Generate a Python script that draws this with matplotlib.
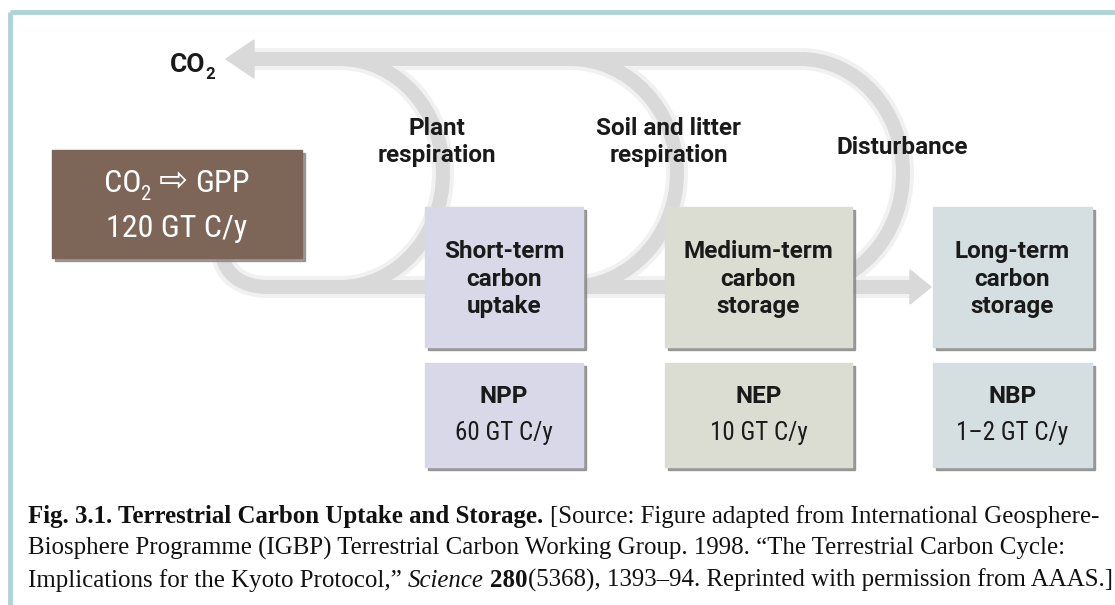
import matplotlib
matplotlib.use("Agg")
import matplotlib.pyplot as plt
from matplotlib.patches import Rectangle, PathPatch, Polygon
from matplotlib.path import Path
from matplotlib import font_manager

# ---- content of the diagram ----
gpp_flux = "120 GT C/y"
stage_titles = ["Short-term\ncarbon\nuptake", "Medium-term\ncarbon\nstorage", "Long-term\ncarbon\nstorage"]
flux_names = ["NPP", "NEP", "NBP"]
flux_values = ["60 GT C/y", "10 GT C/y", "1\u20132 GT C/y"]
loss_labels = ["Plant\nrespiration", "Soil and litter\nrespiration", "Disturbance"]
stage_colors = ["#d9d8e8", "#dcddd2", "#d5dfe1"]

caption_lines = [
    [("Fig. 3.1. Terrestrial Carbon Uptake and Storage.", "bold"), (" ", "normal"),
     ("[Source: Figure adapted from International Geosphere-", "normal")],
    [("Biosphere Programme (IGBP) Terrestrial Carbon Working Group. 1998. \u201cThe Terrestrial Carbon Cycle:", "normal")],
    [("Implications for the Kyoto Protocol,\u201d", "normal"), (" ", "normal"), ("Science", "italic"),
     (" ", "normal"), ("280", "bold"), ("(5368), 1393\u201394. Reprinted with permission from AAAS.]", "normal")],
]

# ---- layout (pixels, y down) ----
W, H = 1115, 605
box_left = [425, 665, 933]
box_right = [583, 852, 1092]
title_box = (207, 347)
flux_box = (363, 467)
loop_join = [340, 570, 800]
loop_right = [443, 677, 903]
loss_pos = [(437, 142), (669, 142), (902, 147)]
y_top, y_flow = 59, 287

fonts = font_manager.fontManager.ttflist
names = {f.name for f in fonts}
SANS = "Roboto" if "Roboto" in names else "DejaVu Sans"
SERIF = "Liberation Serif" if "Liberation Serif" in names else "DejaVu Serif"
# a condensed face for the numbers, if one is installed
narrow = dict(family=SANS)
narrow_scale = 0.86
for nm in ["Liberation Sans Narrow", "Roboto Condensed", "Open Sans Condensed"]:
    if nm in names:
        narrow, narrow_scale = dict(family=nm), 1.0
        break
else:
    cond = [f for f in fonts if f.name in ("DejaVu Sans", "Noto Sans", "Open Sans")
            and f.stretch in ("condensed", "semi-condensed", 87.5, 75)]
    if cond:
        narrow, narrow_scale = dict(family=cond[0].name, stretch=cond[0].stretch), 1.0
INK = "#1a1a1a"
GREY = "#d9d9d9"

fig = plt.figure(figsize=(W / 100, H / 100), dpi=100)
ax = fig.add_axes([0, 0, 1, 1])
ax.set_xlim(0, W)
ax.set_ylim(H, 0)
ax.axis("off")
renderer = fig.canvas.get_renderer()


def text_width(s, **kw):
    t = ax.text(0, 0, s, **kw)
    w = t.get_window_extent(renderer).width
    t.remove()
    return w


def draw_runs(runs, x, y, ha="left"):
    # runs: (text, props, dy) drawn side by side on one baseline
    widths = []
    for s, kw, dy in runs:
        if s == " ":
            widths.append(text_width("x x", **kw) - text_width("xx", **kw))
        else:
            widths.append(text_width(s, **kw))
    total = sum(widths)
    x0 = x - total / 2 if ha == "center" else x
    for (s, kw, dy), w in zip(runs, widths):
        if s != " ":
            ax.text(x0, y + dy, s, va="baseline", ha="left", **kw)
        x0 += w
    return total


# frame lines
ax.plot([10, W], [12, 12], color="#aed4d6", lw=3.5, solid_capstyle="butt")
ax.plot([10, 10], [12, H], color="#aed4d6", lw=3.5, solid_capstyle="butt")

# ---- grey arrows ----
k = 0.5523
paths = []
for xj, xr in zip(loop_join, loop_right):
    yc, ry, rx = (y_top + y_flow) / 2, (y_flow - y_top) / 2, xr - xj
    verts = [(xj, y_flow), (xj + k * rx, y_flow), (xr, yc + k * ry), (xr, yc),
             (xr, yc - k * ry), (xj + k * rx, y_top), (xj, y_top)]
    codes = [Path.MOVETO] + [Path.CURVE4] * 6
    paths.append(Path(verts, codes))
paths.append(Path([(loop_join[-1], y_top), (250, y_top)]))
paths.append(Path([(222, 250), (222, 272), (240, y_flow), (268, y_flow), (914, y_flow)],
                  [Path.MOVETO, Path.CURVE4, Path.CURVE4, Path.CURVE4, Path.LINETO]))

for lw, col in [(22, "#f1f1f1"), (14, GREY)]:
    for p in paths:
        ax.add_patch(PathPatch(p, fill=False, edgecolor=col, lw=lw * 0.72, capstyle="butt", zorder=1))
ax.add_patch(Polygon([(226, y_top), (254, y_top - 19), (254, y_top + 19)], color=GREY, zorder=1))
ax.add_patch(Polygon([(931, y_flow), (910, y_flow - 17), (910, y_flow + 17)], color=GREY, zorder=1))

# ---- boxes ----
def box(x0, y0, x1, y1, color):
    ax.add_patch(Rectangle((x0 + 3, y0 + 3), x1 - x0, y1 - y0, color="#8a8a8a", alpha=0.85, zorder=2))
    ax.add_patch(Rectangle((x0, y0), x1 - x0, y1 - y0, color=color, zorder=3))


box(52, 150, 302, 258, "#7d6658")
for i in range(3):
    box(box_left[i], title_box[0], box_right[i], title_box[1], stage_colors[i])
    box(box_left[i], flux_box[0], box_right[i], flux_box[1], stage_colors[i])
    cx = (box_left[i] + box_right[i]) / 2
    ax.text(cx, (title_box[0] + title_box[1]) / 2 + 2, stage_titles[i], ha="center", va="center",
            family=SANS, weight="bold", fontsize=17.5, color=INK, linespacing=1.25, zorder=4)
    draw_runs([(flux_names[i], dict(family=SANS, weight="bold", fontsize=17.5, color=INK, zorder=4), 0)],
              cx, 403, ha="center")
    draw_runs([(flux_values[i], dict(fontsize=18 * narrow_scale, color=INK, zorder=4, **narrow), 0)],
              cx, 440, ha="center")

for (x, y), lab in zip(loss_pos, loss_labels):
    ax.text(x, y, lab, ha="center", va="center", family=SANS, weight="bold",
            fontsize=17.5, color=INK, linespacing=1.25, zorder=4)

# CO2 label at the arrow head
co2_big = dict(family=SANS, weight="bold", fontsize=19, color=INK, zorder=4)
co2_sub = dict(family=SANS, weight="bold", fontsize=12, color=INK, zorder=4)
draw_runs([("CO", co2_big, 0), ("2", co2_sub, 7)], 192, 72, ha="center")

# GPP box text
gs = 23 * narrow_scale
wt = dict(fontsize=gs, color="white", zorder=4, **narrow)
wsub = dict(fontsize=gs * 0.65, color="white", zorder=4, **narrow)
warrow = dict(family="DejaVu Sans", fontsize=25, color="white", zorder=4)
draw_runs([("CO", wt, 0), ("2", wsub, 8), (" ", wt, 0), ("\u21e8", warrow, -1), (" ", wt, 0), ("GPP", wt, 0)],
          177, 192, ha="center")
draw_runs([(gpp_flux, wt, 0)], 177, 237, ha="center")

# ---- caption ----
styles = {"normal": dict(weight="normal", style="normal"),
          "bold": dict(weight="bold", style="normal"),
          "italic": dict(weight="normal", style="italic")}


def caption_runs(line, size):
    return [(s, dict(family=SERIF, fontsize=size, color="#111111", **styles[st]), 0) for s, st in line]


base = 16.0
w3 = draw_runs(caption_runs(caption_lines[2], base), 0, -100)
for t in list(ax.texts):
    if t.get_position()[1] < 0:
        t.remove()
size = base * (1112 - 28) / w3
for line, yb in zip(caption_lines, [523, 555, 587]):
    draw_runs(caption_runs(line, size), 28, yb)

fig.savefig("out.png", dpi=100)
